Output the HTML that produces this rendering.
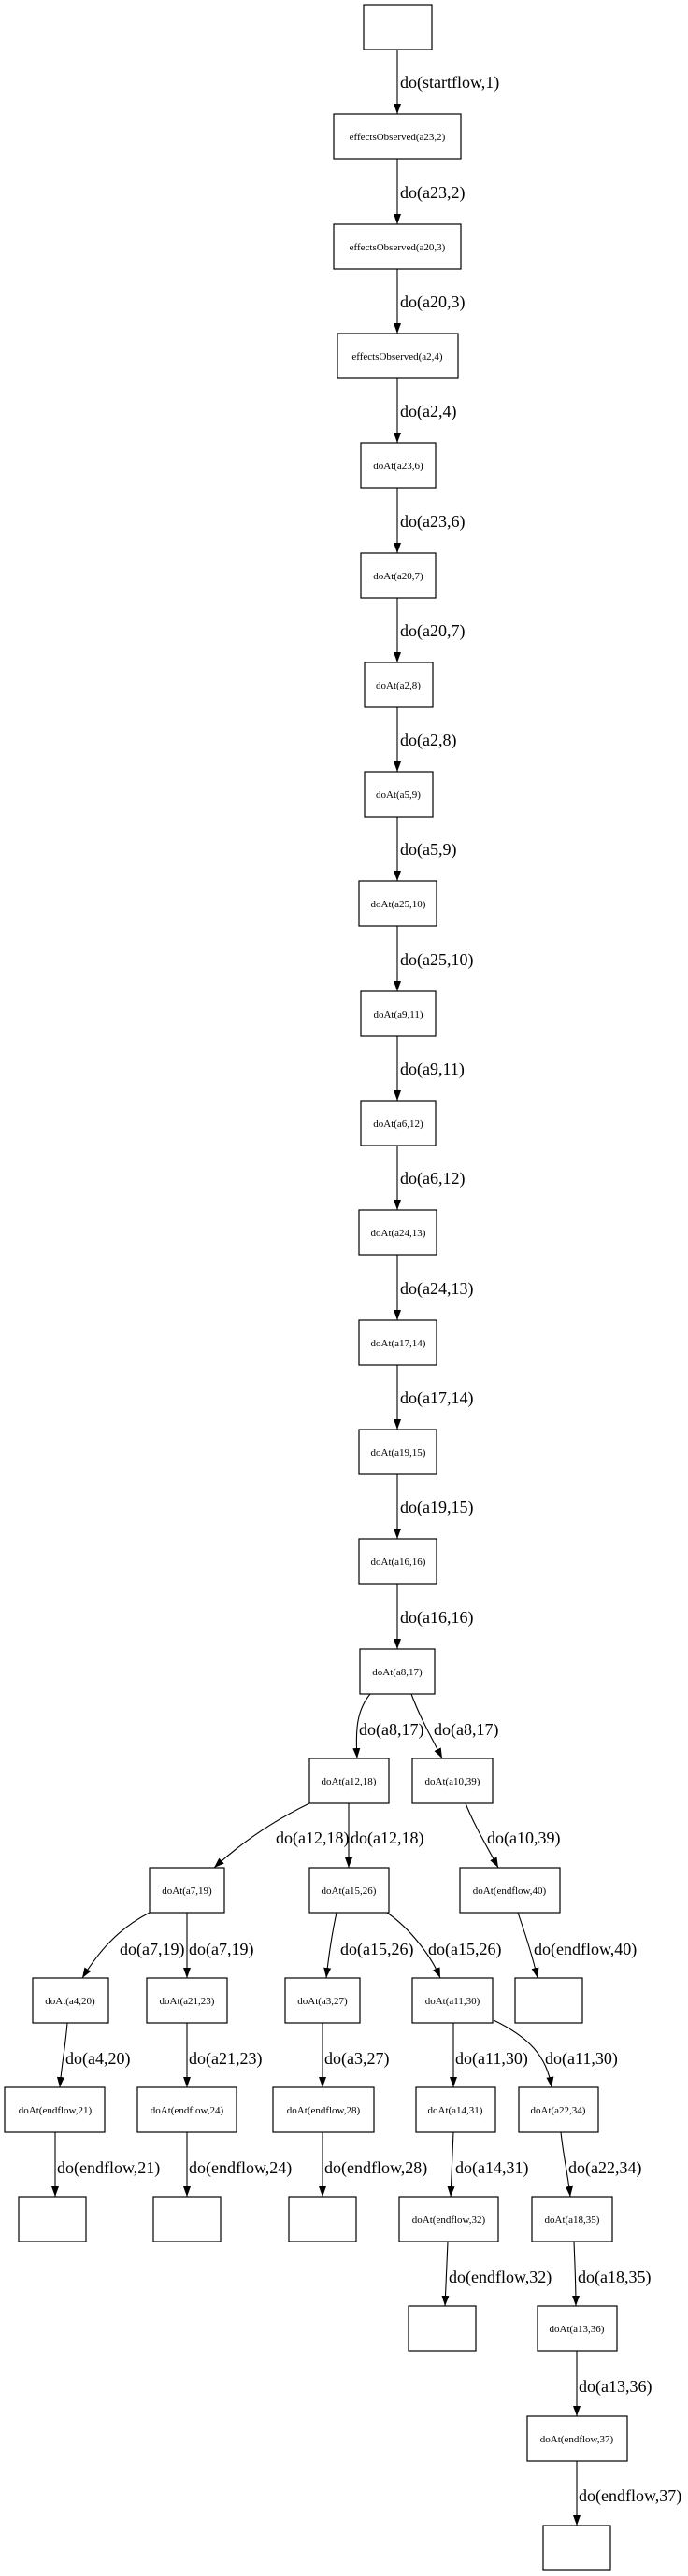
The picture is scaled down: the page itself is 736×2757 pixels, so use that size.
<!DOCTYPE html>
<html><head><meta charset="utf-8"><style>
html,body{margin:0;padding:0;background:#fff;}
svg{display:block}
.n{fill:#fff;stroke:#000;stroke-width:1.2}
.e{fill:none;stroke:#000;stroke-width:1.1;marker-end:url(#a)}
.t{font-family:"Liberation Serif",serif;font-size:11px;text-anchor:middle}
.l{font-family:"Liberation Serif",serif;font-size:18px}
</style></head><body>
<svg width="736" height="2757" viewBox="0 0 736 2757" xmlns="http://www.w3.org/2000/svg">
<defs><marker id="a" markerUnits="userSpaceOnUse" markerWidth="12" markerHeight="10" refX="11" refY="4" orient="auto"><path d="M0,0 L11,4 L0,8 z" fill="#000"/></marker></defs>

<rect class="n" x="389" y="5" width="73" height="48"/>
<rect class="n" x="357" y="122" width="136" height="48"/><text class="t" x="425" y="150">effectsObserved(a23,2)</text>
<rect class="n" x="357" y="240" width="136" height="48"/><text class="t" x="425" y="268">effectsObserved(a20,3)</text>
<rect class="n" x="361" y="357" width="129" height="48"/><text class="t" x="425" y="385">effectsObserved(a2,4)</text>
<rect class="n" x="386" y="474" width="80" height="48"/><text class="t" x="426" y="502">doAt(a23,6)</text>
<rect class="n" x="386" y="592" width="80" height="48"/><text class="t" x="426" y="620">doAt(a20,7)</text>
<rect class="n" x="390" y="709" width="73" height="48"/><text class="t" x="426" y="737">doAt(a2,8)</text>
<rect class="n" x="390" y="826" width="73" height="48"/><text class="t" x="426" y="854">doAt(a5,9)</text>
<rect class="n" x="384" y="943" width="83" height="48"/><text class="t" x="426" y="971">doAt(a25,10)</text>
<rect class="n" x="386" y="1061" width="80" height="48"/><text class="t" x="426" y="1089">doAt(a9,11)</text>
<rect class="n" x="386" y="1178" width="80" height="48"/><text class="t" x="426" y="1206">doAt(a6,12)</text>
<rect class="n" x="384" y="1295" width="83" height="48"/><text class="t" x="426" y="1323">doAt(a24,13)</text>
<rect class="n" x="384" y="1413" width="83" height="48"/><text class="t" x="426" y="1441">doAt(a17,14)</text>
<rect class="n" x="384" y="1530" width="83" height="48"/><text class="t" x="426" y="1558">doAt(a19,15)</text>
<rect class="n" x="384" y="1647" width="83" height="48"/><text class="t" x="426" y="1675">doAt(a16,16)</text>
<rect class="n" x="385" y="1765" width="80" height="48"/><text class="t" x="425" y="1793">doAt(a8,17)</text>

<path class="e" d="M425,53 V122"/><text class="l" x="428" y="94">do(startflow,1)</text>
<path class="e" d="M425,170 V240"/><text class="l" x="428" y="212">do(a23,2)</text>
<path class="e" d="M425,288 V357"/><text class="l" x="428" y="329">do(a20,3)</text>
<path class="e" d="M425,405 V474"/><text class="l" x="428" y="446">do(a2,4)</text>
<path class="e" d="M425,522 V592"/><text class="l" x="428" y="564">do(a23,6)</text>
<path class="e" d="M425,640 V709"/><text class="l" x="428" y="681">do(a20,7)</text>
<path class="e" d="M425,757 V826"/><text class="l" x="428" y="798">do(a2,8)</text>
<path class="e" d="M425,874 V943"/><text class="l" x="428" y="915">do(a5,9)</text>
<path class="e" d="M425,991 V1061"/><text class="l" x="428" y="1033">do(a25,10)</text>
<path class="e" d="M425,1109 V1178"/><text class="l" x="428" y="1150">do(a9,11)</text>
<path class="e" d="M425,1226 V1295"/><text class="l" x="428" y="1267">do(a6,12)</text>
<path class="e" d="M425,1343 V1413"/><text class="l" x="428" y="1385">do(a24,13)</text>
<path class="e" d="M425,1461 V1530"/><text class="l" x="428" y="1502">do(a17,14)</text>
<path class="e" d="M425,1578 V1647"/><text class="l" x="428" y="1619">do(a19,15)</text>
<path class="e" d="M425,1695 V1765"/><text class="l" x="428" y="1737">do(a16,16)</text>

<rect class="n" x="331" y="1882" width="85" height="48"/><text class="t" x="373" y="1910">doAt(a12,18)</text>
<rect class="n" x="441" y="1882" width="86" height="48"/><text class="t" x="484" y="1910">doAt(a10,39)</text>
<rect class="n" x="160" y="1999" width="80" height="48"/><text class="t" x="200" y="2027">doAt(a7,19)</text>
<rect class="n" x="331" y="1999" width="85" height="48"/><text class="t" x="373" y="2027">doAt(a15,26)</text>
<rect class="n" x="492" y="1999" width="107" height="48"/><text class="t" x="545" y="2027">doAt(endflow,40)</text>
<rect class="n" x="35" y="2117" width="81" height="48"/><text class="t" x="75" y="2145">doAt(a4,20)</text>
<rect class="n" x="157" y="2117" width="86" height="48"/><text class="t" x="200" y="2145">doAt(a21,23)</text>
<rect class="n" x="305" y="2117" width="80" height="48"/><text class="t" x="345" y="2145">doAt(a3,27)</text>
<rect class="n" x="441" y="2117" width="86" height="48"/><text class="t" x="484" y="2145">doAt(a11,30)</text>
<rect class="n" x="551" y="2117" width="72" height="48"/>
<rect class="n" x="5" y="2234" width="107" height="48"/><text class="t" x="59" y="2262">doAt(endflow,21)</text>
<rect class="n" x="147" y="2234" width="106" height="48"/><text class="t" x="200" y="2262">doAt(endflow,24)</text>
<rect class="n" x="292" y="2234" width="108" height="48"/><text class="t" x="346" y="2262">doAt(endflow,28)</text>
<rect class="n" x="445" y="2234" width="85" height="48"/><text class="t" x="487" y="2262">doAt(a14,31)</text>
<rect class="n" x="555" y="2234" width="85" height="48"/><text class="t" x="597" y="2262">doAt(a22,34)</text>
<rect class="n" x="20" y="2351" width="72" height="48"/>
<rect class="n" x="164" y="2351" width="72" height="48"/>
<rect class="n" x="309" y="2351" width="72" height="48"/>
<rect class="n" x="427" y="2351" width="106" height="48"/><text class="t" x="480" y="2379">doAt(endflow,32)</text>
<rect class="n" x="569" y="2351" width="86" height="48"/><text class="t" x="612" y="2379">doAt(a18,35)</text>
<rect class="n" x="437" y="2468" width="72" height="48"/>
<rect class="n" x="575" y="2468" width="85" height="48"/><text class="t" x="617" y="2496">doAt(a13,36)</text>
<rect class="n" x="564" y="2586" width="107" height="48"/><text class="t" x="617" y="2614">doAt(endflow,37)</text>
<rect class="n" x="581" y="2703" width="72" height="48"/>

<path class="e" d="M396,1813 C382,1830 380,1850 382,1882"/><text class="l" x="384" y="1857">do(a8,17)</text>
<path class="e" d="M440,1813 C450,1840 462,1860 473,1882"/><text class="l" x="464" y="1857">do(a8,17)</text>
<path class="e" d="M331,1930 C290,1950 255,1975 229,1999"/><text class="l" x="295" y="1973">do(a12,18)</text>
<path class="e" d="M373,1930 V1999"/><text class="l" x="375" y="1973">do(a12,18)</text>
<path class="e" d="M498,1930 C508,1955 522,1978 533,1999"/><text class="l" x="521" y="1973">do(a10,39)</text>
<path class="e" d="M160,2047 C125,2065 105,2090 88,2117"/><text class="l" x="128" y="2092">do(a7,19)</text>
<path class="e" d="M200,2047 V2117"/><text class="l" x="202" y="2092">do(a7,19)</text>
<path class="e" d="M360,2047 C355,2070 352,2090 349,2117"/><text class="l" x="364" y="2092">do(a15,26)</text>
<path class="e" d="M414,2047 C440,2065 462,2095 471,2117"/><text class="l" x="458" y="2092">do(a15,26)</text>
<path class="e" d="M554,2047 C562,2070 570,2095 575,2117"/><text class="l" x="571" y="2092">do(endflow,40)</text>
<path class="e" d="M72,2165 C70,2190 66,2210 64,2234"/><text class="l" x="70" y="2209">do(a4,20)</text>
<path class="e" d="M200,2165 V2234"/><text class="l" x="202" y="2209">do(a21,23)</text>
<path class="e" d="M345,2165 V2234"/><text class="l" x="347" y="2209">do(a3,27)</text>
<path class="e" d="M485,2165 V2234"/><text class="l" x="487" y="2209">do(a11,30)</text>
<path class="e" d="M528,2162 C565,2180 585,2200 590,2234"/><text class="l" x="583" y="2209">do(a11,30)</text>
<path class="e" d="M59,2282 V2351"/><text class="l" x="61" y="2326">do(endflow,21)</text>
<path class="e" d="M200,2282 V2351"/><text class="l" x="202" y="2326">do(endflow,24)</text>
<path class="e" d="M345,2282 V2351"/><text class="l" x="347" y="2326">do(endflow,28)</text>
<path class="e" d="M485,2282 C484,2310 483,2330 482,2351"/><text class="l" x="487" y="2326">do(a14,31)</text>
<path class="e" d="M600,2282 C603,2310 608,2330 610,2351"/><text class="l" x="608" y="2326">do(a22,34)</text>
<path class="e" d="M479,2399 C478,2425 477,2445 476,2468"/><text class="l" x="480" y="2443">do(endflow,32)</text>
<path class="e" d="M614,2399 C615,2425 616,2445 616,2468"/><text class="l" x="618" y="2443">do(a18,35)</text>
<path class="e" d="M617,2516 V2586"/><text class="l" x="619" y="2560">do(a13,36)</text>
<path class="e" d="M617,2634 V2703"/><text class="l" x="619" y="2677">do(endflow,37)</text>
</svg>
</body></html>
